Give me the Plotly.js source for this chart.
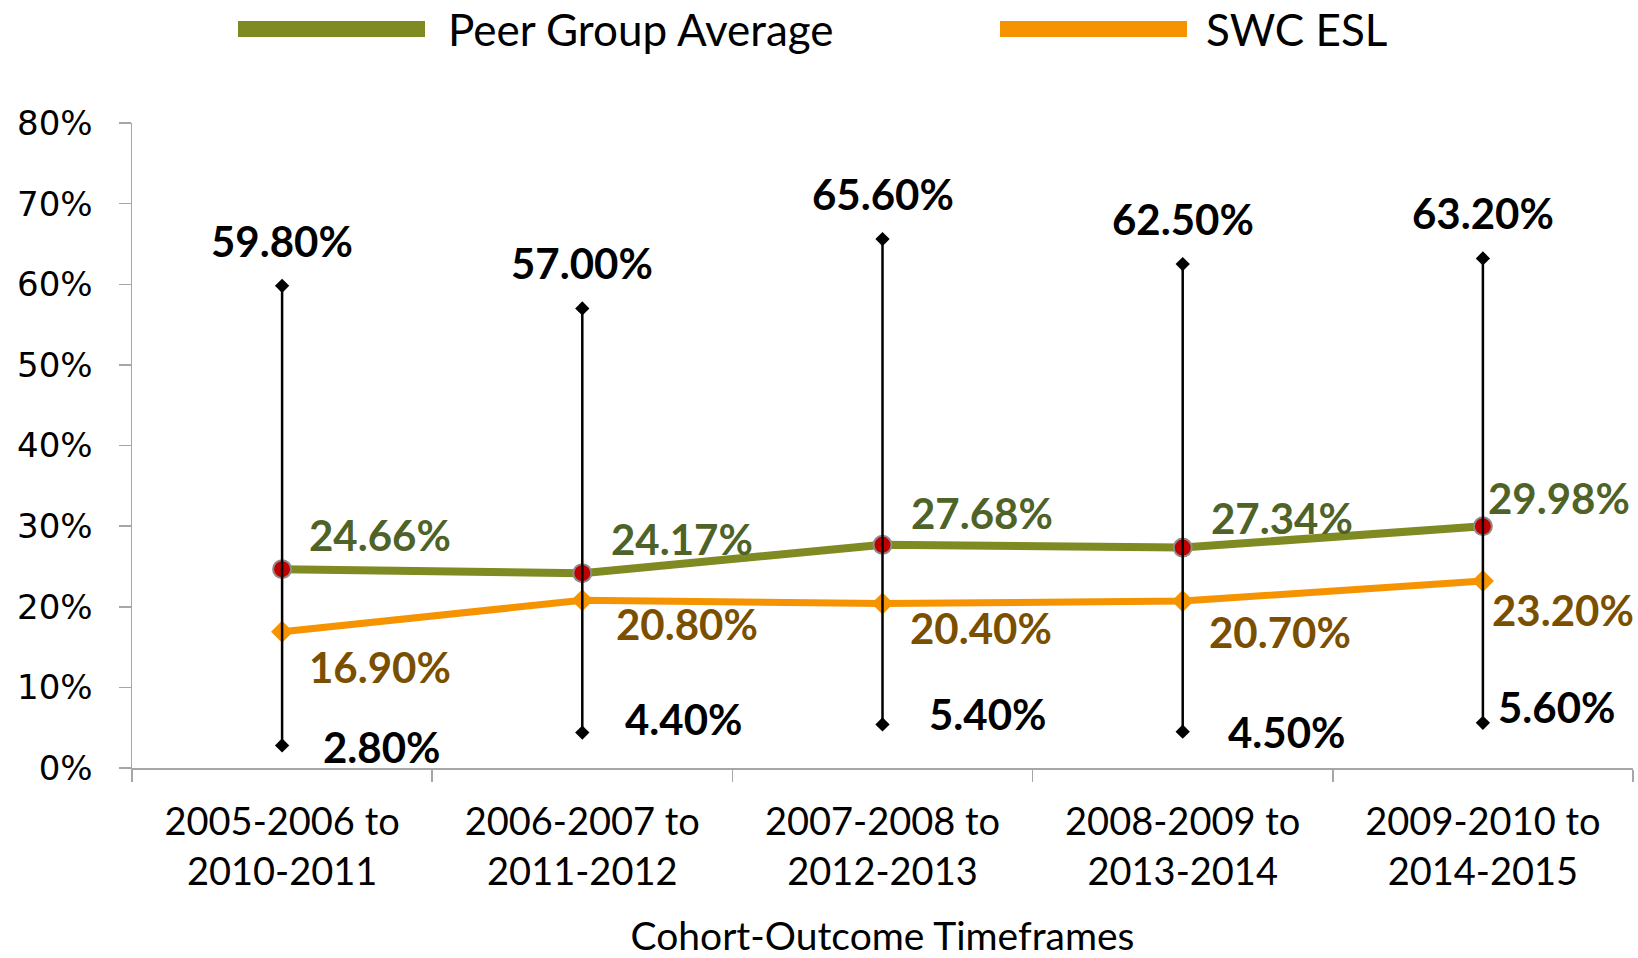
<!DOCTYPE html>
<html>
<head>
<meta charset="utf-8">
<script src="https://cdn.plot.ly/plotly-3.0.1.min.js"></script>
<style>html,body{margin:0;padding:0;background:#fff;}#chart{width:1638px;height:958px;}</style>
</head>
<body>
<div id="chart"></div>
<script>
// ---- data ----
const categories = ['2005-2006 to<br>2010-2011', '2006-2007 to<br>2011-2012', '2007-2008 to<br>2012-2013', '2008-2009 to<br>2013-2014', '2009-2010 to<br>2014-2015'];
const peerGroupAverage = [24.66, 24.17, 27.68, 27.34, 29.98];
const swcEsl = [16.90, 20.80, 20.40, 20.70, 23.20];
const rangeHigh = [59.80, 57.00, 65.60, 62.50, 63.20];
const rangeLow = [2.80, 4.40, 5.40, 4.50, 5.60];
const yTickValues = [0, 10, 20, 30, 40, 50, 60, 70, 80];
const seriesNames = ['Peer Group Average', 'SWC ESL'];

// ---- label placement (style only, pixel shifts) ----
const peerShift = {x: [25, 27, 26, 26, 3], y: [34, 34, 32, 30, 28]};
const swcShift = {x: [25, 32, 25, 24, 7], y: [-35, -24, -24, -31, -29]};
const lowShift = {x: [39, 41, 44, 43, 13], y: [-2, 14, 10, 0, 16]};
const highShiftY = 45;

const W = 1638, H = 958;
const M = {l: 132, r: 5, t: 123, b: 190};
const pw = W - M.l - M.r, ph = H - M.t - M.b;
const px = v => (v - M.l) / pw;
const py = v => (H - M.b - v) / ph;

const OLIVE = '#7f8a22', ORANGE = '#f59300';
const OLIVE_TXT = '#4f6228', BROWN_TXT = '#7a4f00';
const LABEL_FONT = {family: 'Lato, "Open Sans", sans-serif', size: 42, weight: 700};
const fmt = v => v.toFixed(2) + '%';

// high-low segments built from the arrays
const hlX = [], hlY = [];
categories.forEach((c, i) => { hlX.push(c, c, null); hlY.push(rangeLow[i], rangeHigh[i], null); });

const traces = [
  {type: 'scatter', mode: 'lines+markers', name: seriesNames[0], x: categories, y: peerGroupAverage,
   line: {color: OLIVE, width: 8}, marker: {symbol: 'circle', size: 18, color: '#c00000', line: {color: '#8c8c8c', width: 2}},
   showlegend: false, hoverinfo: 'skip'},
  {type: 'scatter', mode: 'lines+markers', name: seriesNames[1], x: categories, y: swcEsl,
   line: {color: ORANGE, width: 7}, marker: {symbol: 'diamond', size: 17, color: ORANGE},
   showlegend: false, hoverinfo: 'skip'},
  {type: 'scatter', mode: 'lines+markers', name: 'High-Low', x: hlX, y: hlY, connectgaps: false,
   line: {color: '#000', width: 2.5}, marker: {symbol: 'diamond', size: 11, color: '#000'},
   showlegend: false, hoverinfo: 'skip'}
];

const annotations = [];
categories.forEach((c, i) => {
  annotations.push({x: c, y: rangeHigh[i], xref: 'x', yref: 'y', text: fmt(rangeHigh[i]), showarrow: false,
    xanchor: 'center', yanchor: 'middle', yshift: highShiftY, font: Object.assign({color: '#000'}, LABEL_FONT)});
  annotations.push({x: c, y: rangeLow[i], xref: 'x', yref: 'y', text: fmt(rangeLow[i]), showarrow: false,
    xanchor: 'left', yanchor: 'middle', xshift: lowShift.x[i], yshift: lowShift.y[i], font: Object.assign({color: '#000'}, LABEL_FONT)});
  annotations.push({x: c, y: peerGroupAverage[i], xref: 'x', yref: 'y', text: fmt(peerGroupAverage[i]), showarrow: false,
    xanchor: 'left', yanchor: 'middle', xshift: peerShift.x[i], yshift: peerShift.y[i], font: Object.assign({color: OLIVE_TXT}, LABEL_FONT)});
  annotations.push({x: c, y: swcEsl[i], xref: 'x', yref: 'y', text: fmt(swcEsl[i]), showarrow: false,
    xanchor: 'left', yanchor: 'middle', xshift: swcShift.x[i], yshift: swcShift.y[i], font: Object.assign({color: BROWN_TXT}, LABEL_FONT)});
});

// custom legend
const LEG_FONT = {family: 'Lato, "Open Sans", sans-serif', size: 44, color: '#000'};
annotations.push({xref: 'paper', yref: 'paper', x: px(446), y: py(29), text: seriesNames[0], showarrow: false, xanchor: 'left', yanchor: 'middle', font: LEG_FONT});
annotations.push({xref: 'paper', yref: 'paper', x: px(1204), y: py(29), text: seriesNames[1], showarrow: false, xanchor: 'left', yanchor: 'middle', font: LEG_FONT});
const shapes = [
  {type: 'rect', xref: 'paper', yref: 'paper', x0: px(238), x1: px(425), y0: py(21), y1: py(37), fillcolor: OLIVE, line: {width: 0}},
  {type: 'rect', xref: 'paper', yref: 'paper', x0: px(1000), x1: px(1187), y0: py(21), y1: py(37), fillcolor: ORANGE, line: {width: 0}}
];

const layout = {
  width: W, height: H, margin: M, paper_bgcolor: '#fff', plot_bgcolor: '#fff', showlegend: false,
  font: {family: 'Lato, sans-serif', color: '#000'},
  xaxis: {type: 'category', range: [-0.5, 4.5], showgrid: false, zeroline: false, showline: true,
    linecolor: '#a6a6a6', linewidth: 1.5, ticks: 'outside', ticklen: 12, tickcolor: '#a6a6a6', tickwidth: 1.5,
    tickson: 'boundaries', tickfont: {family: 'Lato, sans-serif', size: 38, color: '#000'}, ticklabelstandoff: 20,
    title: {text: 'Cohort-Outcome Timeframes', font: {family: 'Lato, sans-serif', size: 39, color: '#000'}, standoff: 39}},
  yaxis: {range: [0, 80], tickvals: yTickValues, ticktext: yTickValues.map(v => v + '%'), showgrid: false, zeroline: false,
    showline: true, linecolor: '#a6a6a6', linewidth: 1.5, ticks: 'outside', ticklen: 12, tickcolor: '#a6a6a6', tickwidth: 1.5,
    tickfont: {family: '"DejaVu Sans", sans-serif', size: 34, color: '#000'}, ticklabelstandoff: 19},
  annotations: annotations, shapes: shapes
};

Plotly.newPlot('chart', traces, layout, {staticPlot: true, displayModeBar: false});
</script>
</body>
</html>
